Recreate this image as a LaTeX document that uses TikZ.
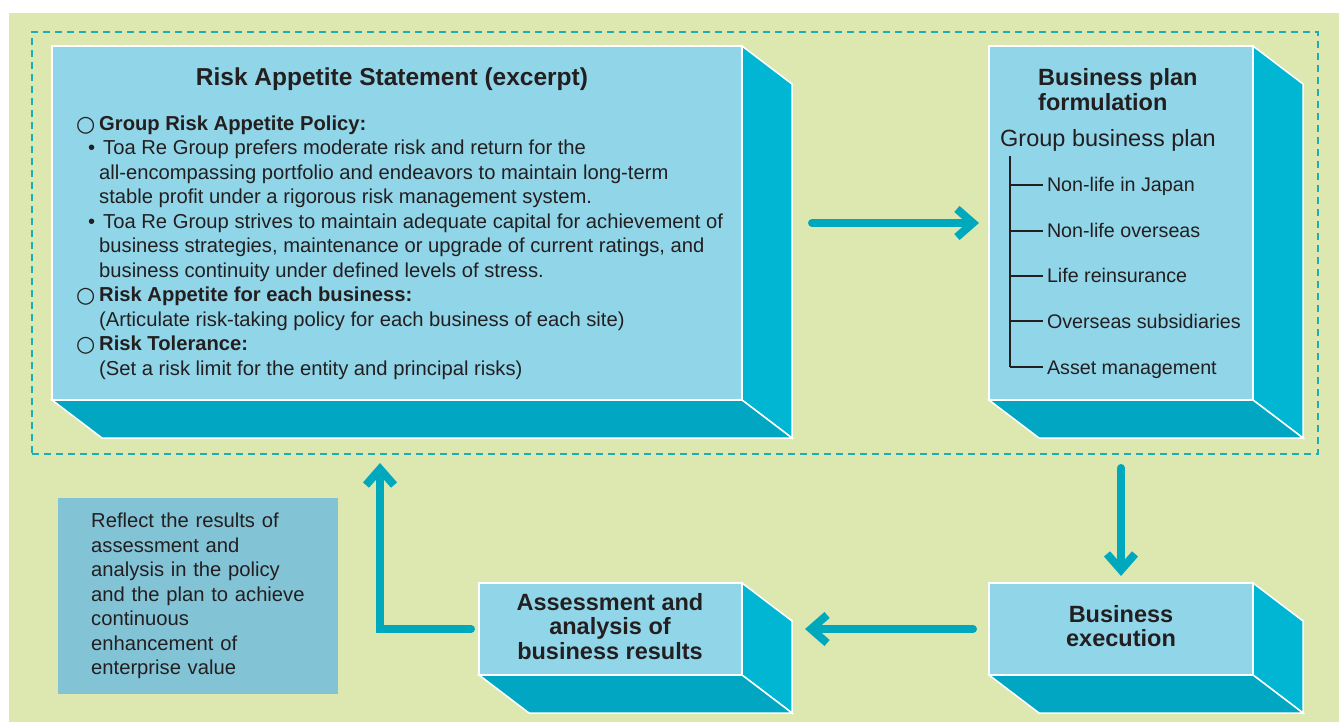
\documentclass[tikz,border=0pt]{standalone}
\usepackage{fontspec}
\setmainfont{Liberation Sans}
\newfontfamily\symfont{DejaVu Sans}
\usepackage{tikz}
\usetikzlibrary{calc,arrows.meta,positioning}
\definecolor{bgGreen}{RGB}{220,232,176}
\definecolor{frontBlue}{RGB}{145,213,232}
\definecolor{sideBlue}{RGB}{0,182,210}
\definecolor{bottomBlue}{RGB}{0,166,194}
\definecolor{arrowTeal}{RGB}{0,168,190}
\definecolor{dashTeal}{RGB}{30,172,182}
\definecolor{noteBlue}{RGB}{130,195,214}
\definecolor{textDark}{RGB}{35,31,32}
\tikzset{
  box/.style={draw=white, line width=1.5pt, fill=frontBlue, inner sep=0pt,
    outer sep=0pt, anchor=north west},
  face/.style={draw=white, line width=1.5pt, line join=miter},
  frame/.style={draw=dashTeal, line width=2pt, dash pattern=on 7pt off 5pt,
    inner sep=0pt, outer sep=0pt, anchor=north west},
  head/.style={font=\fontsize{23.5}{24.5}\selectfont\bfseries, text=textDark,
    inner sep=0pt},
  body/.style={font=\fontsize{20.2}{24.5}\selectfont, text=textDark, inner sep=0pt},
  leaf/.style={body, font=\fontsize{19.7}{24.5}\selectfont, anchor=base west,
    text height=14.5pt, text depth=0.5pt, outer xsep=4pt},
  tree/.style={draw=textDark, line width=1.5pt},
  flow/.style={draw=arrowTeal, line width=8pt, line cap=round, line join=miter,
    -{Straight Barb[length=16pt, width=28pt]}}
}
\newcommand{\ringitem}{\makebox[23pt][l]{\raisebox{-1pt}{\symfont\fontsize{22}{22}\selectfont ○}}}
\newcommand{\dotitem}{\hspace*{12pt}\makebox[15pt][l]{•}}

\begin{document}
\begin{tikzpicture}[x=1pt,y=-1pt]
\path[use as bounding box,fill=white] (0,0) rectangle (1339,722);
\fill[bgGreen] (9,13) rectangle (1339,722);

% dashed frame round the statement and the plan
\node[frame, minimum width=1286pt, minimum height=422pt] (riskframe) at (32,32) {};

% box fronts
\node[box, minimum width=690pt, minimum height=354pt] (ras) at (52,46) {};
\node[box, minimum width=264pt, minimum height=354pt] (plan) at (989,46) {};
\node[box, minimum width=263pt, minimum height=92pt] (assess) at (479,583) {};
\node[box, minimum width=264pt, minimum height=92pt] (exec) at (989,583) {};

% side and bottom faces
\foreach \b in {ras,plan,assess,exec}{
  \draw[face, fill=sideBlue] (\b.north east) -- ++(50,38)
    -- ($(\b.south east)+(50,38)$) -- (\b.south east) -- cycle;
  \draw[face, fill=bottomBlue] (\b.south west) -- (\b.south east)
    -- ++(50,38) -- ($(\b.south west)+(50,38)$) -- cycle;
}

% risk appetite statement (multi-line nodes sit on their last baseline)
\node[head, font=\fontsize{24.5}{24.5}\selectfont\bfseries, anchor=base] (ras title) at (392,86)
  {Risk Appetite Statement (excerpt)};
\node[body, anchor=base west, align=left] (ras text) at (76,375) {%
\ringitem\textbf{Group Risk Appetite Policy:}\\
\dotitem Toa Re Group prefers moderate risk and return for the\\
\hspace*{23pt}all-encompassing portfolio and endeavors to maintain long-term\\
\hspace*{23pt}stable profit under a rigorous risk management system.\\
\dotitem Toa Re Group strives to maintain adequate capital for achievement of\\
\hspace*{23pt}business strategies, maintenance or upgrade of current ratings, and\\
\hspace*{23pt}business continuity under defined levels of stress.\\
\ringitem\textbf{Risk Appetite for each business:}\\
\hspace*{23pt}(Articulate risk-taking policy for each business of each site)\\
\ringitem\textbf{Risk Tolerance:}\\
\hspace*{23pt}(Set a risk limit for the entity and principal risks)};

% business plan
\node[head, anchor=base west, align=left] (plan title) at (1038,110.5)
  {Business plan\\formulation};
\node[body, font=\fontsize{23.5}{24.5}\selectfont, anchor=base west] (group plan) at (1000,147)
  {Group business plan};
\coordinate (trunk) at (1010,156);
\node[leaf] (nlj) at (1043,192) {Non-life in Japan};
\node[leaf] (nlo) at (1043,238) {Non-life overseas};
\node[leaf] (life) at (1043,283) {Life reinsurance};
\node[leaf] (subs) at (1043,328) {Overseas subsidiaries};
\node[leaf] (asset) at (1043,374) {Asset management};
\draw[tree] (trunk) -- (trunk |- asset.west);
\foreach \l in {nlj,nlo,life,subs,asset}
  \draw[tree] (trunk |- \l.west) -- (\l.west);

% lower boxes
\node[head, align=center, anchor=base] (assess label) at (610,659)
  {Assessment and\\analysis of\\business results};
\node[head, align=center, anchor=base] (exec label) at (1121,646.5)
  {Business\\execution};

% note
\node[body, anchor=north west, fill=noteBlue, minimum width=280pt, minimum height=196pt,
  text width=214pt, inner xsep=33pt, align=left] (reflect) at (58,498)
  {Reflect the results of\\assessment and\\analysis in the policy\\and the plan to achieve\\continuous\\enhancement of\\enterprise value};

% cycle
\coordinate (back) at (380,0);
\draw[flow] ([xshift=70pt]ras.east) -- ([xshift=-10pt]plan.west);
\draw[flow] ([yshift=-14pt]riskframe.south -| plan.south) -- ([yshift=7pt]exec.north);
\draw[flow] ([xshift=-16pt]exec.west) -- ([xshift=63pt]assess.east);
\draw[flow] ([xshift=-8pt]assess.west) -| ([yshift=-9pt]back |- riskframe.south);
\end{tikzpicture}
\end{document}
